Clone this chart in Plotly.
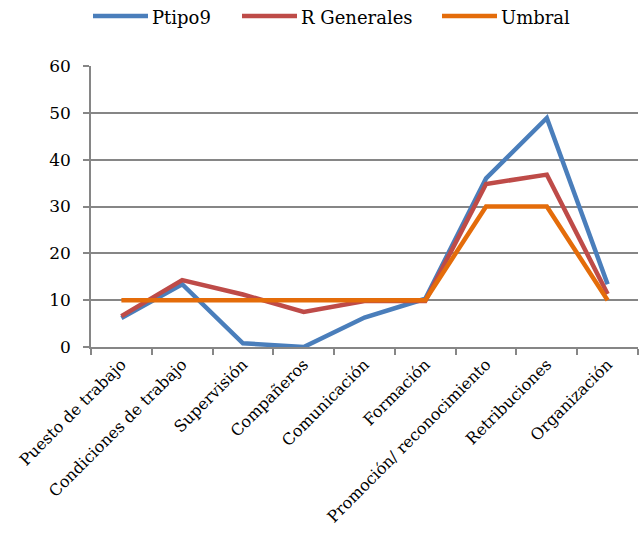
import plotly.graph_objects as go

categorias = [
    "Puesto de trabajo",
    "Condiciones de trabajo",
    "Supervisión",
    "Compañeros",
    "Comunicación",
    "Formación",
    "Promoción/ reconocimiento",
    "Retribuciones",
    "Organización",
]
ptipo9 = [6.2, 13.4, 0.8, 0.0, 6.3, 10.3, 36.0, 48.9, 13.4]
r_generales = [6.6, 14.3, 11.2, 7.5, 9.8, 9.8, 34.8, 36.8, 11.3]
umbral = [10, 10, 10, 10, 10, 10, 30, 30, 10]
y_ticks = [0, 10, 20, 30, 40, 50, 60]

series = [
    ("Ptipo9", ptipo9, "#4A7EBB"),
    ("R Generales", r_generales, "#BE4B48"),
    ("Umbral", umbral, "#E46C0A"),
]

fuente = "DejaVu Serif"
gris = "#868686"

fig = go.Figure()
for nombre, valores, color in series:
    fig.add_trace(go.Scatter(
        x=categorias, y=valores, name=nombre, mode="lines",
        line=dict(color=color, width=4.5), showlegend=False,
    ))

# Legend drawn as line samples + labels above the plot area (paper coords)
ancho_plot, alto_plot = 547, 281
def px_x(p):
    return (p - 91) / ancho_plot
def px_y(p):
    return (347 - p) / alto_plot

inicios_muestra = [93, 242, 442]
for (nombre, _, color), x0 in zip(series, inicios_muestra):
    fig.add_shape(
        type="line", xref="paper", yref="paper",
        x0=px_x(x0), x1=px_x(x0 + 55), y0=px_y(16), y1=px_y(16),
        line=dict(color=color, width=4.5),
    )
    fig.add_annotation(
        xref="paper", yref="paper", x=px_x(x0 + 57), y=px_y(17),
        xanchor="left", yanchor="middle", showarrow=False,
        text=nombre, font=dict(family=fuente, size=18, color="#000000"),
    )

fig.update_layout(
    width=641, height=541,
    margin=dict(l=91, r=3, t=66, b=194),
    paper_bgcolor="white", plot_bgcolor="white",
    font=dict(family=fuente, size=16, color="#000000"),
    showlegend=False,
)
fig.update_xaxes(
    type="category", range=[-0.5, 8.5], tickangle=-45, tickson="boundaries",
    ticks="outside", ticklen=6, tickcolor=gris, tickwidth=1.5,
    showline=True, linecolor=gris, linewidth=1.5, automargin=False,
    showgrid=False, tickfont=dict(family=fuente, size=16),
)
fig.update_yaxes(
    range=[0, 60], tickvals=y_ticks,
    ticks="outside", ticklen=6, tickcolor=gris, tickwidth=1.5,
    ticklabelstandoff=9, automargin=False,
    showline=True, linecolor=gris, linewidth=1.5,
    showgrid=True, gridcolor=gris, gridwidth=1.5,
    zeroline=False, tickfont=dict(family=fuente, size=17),
)

fig.write_html("out.html")
